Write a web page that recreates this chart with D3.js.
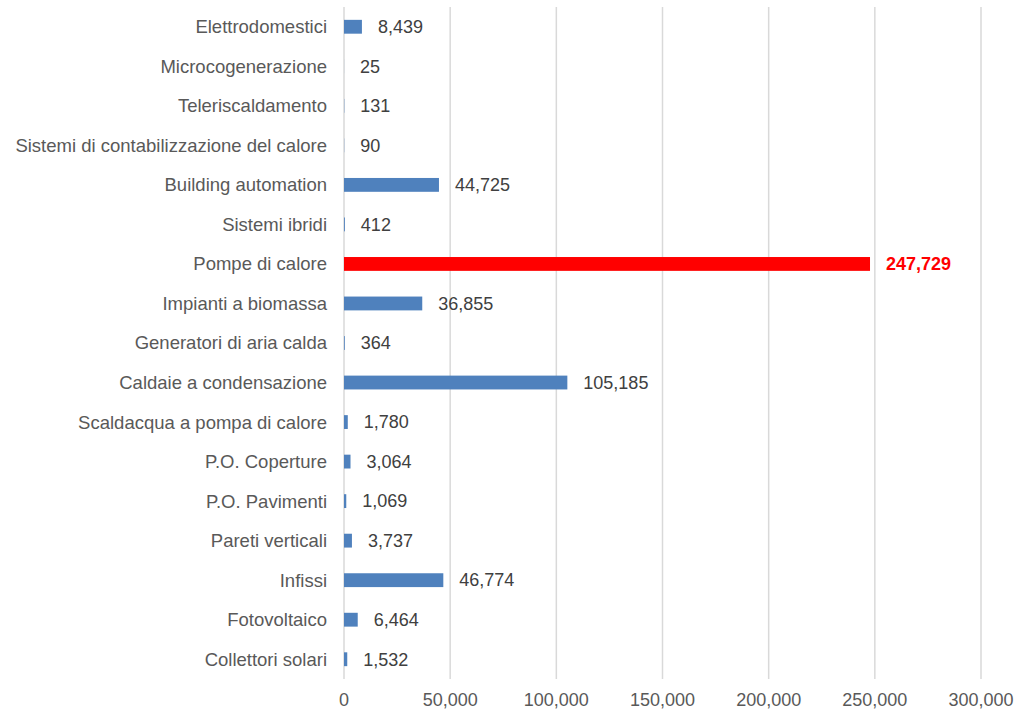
<!DOCTYPE html>
<html>
<head>
<meta charset="utf-8">
<script src="https://cdn.jsdelivr.net/npm/d3@7"></script>
<style>
  html, body { margin: 0; padding: 0; background: #fff; }
  svg { display: block; font-family: "Liberation Sans", Arial, sans-serif; }
</style>
</head>
<body>
<svg id="chart" width="1017" height="710"></svg>
<script>
// Interventions by category (top to bottom)
const categories = [
  "Elettrodomestici",
  "Microcogenerazione",
  "Teleriscaldamento",
  "Sistemi di contabilizzazione del calore",
  "Building automation",
  "Sistemi ibridi",
  "Pompe di calore",
  "Impianti a biomassa",
  "Generatori di aria calda",
  "Caldaie a condensazione",
  "Scaldacqua a pompa di calore",
  "P.O. Coperture",
  "P.O. Pavimenti",
  "Pareti verticali",
  "Infissi",
  "Fotovoltaico",
  "Collettori solari"
];
const values = [8439, 25, 131, 90, 44725, 412, 247729, 36855, 364, 105185, 1780, 3064, 1069, 3737, 46774, 6464, 1532];
const highlighted = ["Pompe di calore"];
const xTicks = [0, 50000, 100000, 150000, 200000, 250000, 300000];

(function () {
  const svg = d3.select("#chart");
  const plotLeft = 344, plotRight = 981, plotTop = 7, plotBottom = 679;

  const x = d3.scaleLinear().domain([0, 300000]).range([plotLeft, plotRight]);
  const y = d3.scaleBand().domain(categories).range([plotTop, plotBottom]).paddingInner(0.65).paddingOuter(0.325);
  const band = d3.scaleBand().domain(categories).range([plotTop, plotBottom]);

  const fmt = d3.format(",");

  // vertical gridlines
  svg.append("g").selectAll("line").data(xTicks).join("line")
    .attr("x1", d => x(d)).attr("x2", d => x(d))
    .attr("y1", plotTop).attr("y2", plotBottom)
    .attr("stroke", "#d9d9d9").attr("stroke-width", 1.5);

  // x-axis tick labels
  svg.append("g").selectAll("text").data(xTicks).join("text")
    .attr("x", d => x(d)).attr("y", 706)
    .attr("text-anchor", "middle")
    .attr("fill", "#595959").attr("font-size", 18)
    .text(d => fmt(d));

  // category labels
  svg.append("g").selectAll("text").data(categories).join("text")
    .attr("x", 327)
    .attr("y", d => band(d) + band.bandwidth() / 2)
    .attr("dy", "0.35em")
    .attr("text-anchor", "end")
    .attr("fill", "#595959").attr("font-size", 18.5)
    .text(d => d);

  const rows = categories.map((c, i) => ({ c, v: values[i], hi: highlighted.includes(c) }));

  // bars
  svg.append("g").selectAll("rect").data(rows).join("rect")
    .attr("x", x(0))
    .attr("y", d => y(d.c))
    .attr("width", d => x(d.v) - x(0))
    .attr("height", y.bandwidth())
    .attr("fill", d => d.hi ? "#ff0000" : "#4f81bd");

  // value labels
  svg.append("g").selectAll("text").data(rows).join("text")
    .attr("x", d => x(d.v) + 16)
    .attr("y", d => band(d.c) + band.bandwidth() / 2)
    .attr("dy", "0.35em")
    .attr("fill", d => d.hi ? "#ff0000" : "#404040")
    .attr("font-weight", d => d.hi ? "bold" : "normal")
    .attr("font-size", 18)
    .text(d => fmt(d.v));
})();
</script>
</body>
</html>
